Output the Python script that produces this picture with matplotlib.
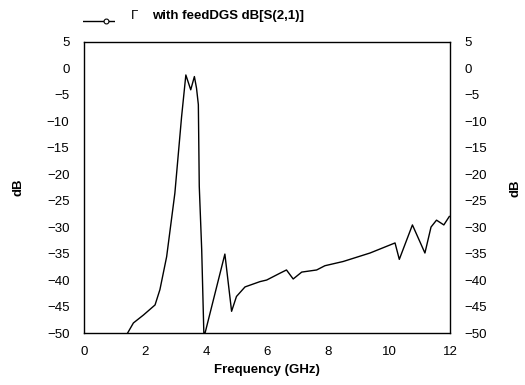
import matplotlib
matplotlib.use("Agg")
import matplotlib.pyplot as plt
from matplotlib.lines import Line2D

plt.rcParams["font.family"] = ["Liberation Sans", "DejaVu Sans"]

# S21 of the DGS filter with feed line
freq_ghz = [1.43, 1.62, 1.95, 2.33, 2.49, 2.71, 2.98, 3.20, 3.34, 3.50,
            3.62, 3.69, 3.75, 3.78, 3.86, 3.93, 3.97, 4.62, 4.84, 5.00,
            5.28, 5.77, 5.99, 6.43, 6.64, 6.86, 7.14, 7.63, 7.90, 8.50,
            9.38, 10.20, 10.34, 10.77, 11.18, 11.38, 11.56, 11.80, 11.98]
s21_db = [-50.0, -48.1, -46.6, -44.7, -41.8, -35.6, -23.6, -9.2, -1.3, -4.1,
          -1.6, -3.8, -6.9, -22.3, -34.3, -50.0, -50.0, -35.1, -45.9, -43.1,
          -41.3, -40.3, -40.0, -38.7, -38.1, -39.8, -38.5, -38.1, -37.3, -36.5,
          -34.9, -33.0, -36.1, -29.6, -34.9, -30.0, -28.7, -29.6, -28.0]

x_ticks = [0, 2, 4, 6, 8, 10, 12]
y_ticks = list(range(-50, 6, 5))

fig = plt.figure(figsize=(5.25, 3.85), dpi=100)
ax = fig.add_axes([0.16, 0.135, 0.697, 0.757])
ax.plot(freq_ghz, s21_db, color="black", lw=1.0)
ax.set_xlim(0, 12)
ax.set_ylim(-50, 5)
ax.set_xticks(x_ticks)
ax.set_yticks(y_ticks)
ax.tick_params(direction="inout", length=3, width=1, color="white",
               labelsize=9.5, right=True, labelright=True)
ax.tick_params(axis="y", pad=9)
ax.tick_params(axis="x", pad=8)
for s in ax.spines.values():
    s.set_linewidth(1.0)

ax.set_xlabel("Frequency (GHz)", fontsize=9.5, fontweight="bold", labelpad=4)
ax.set_ylabel("dB", fontsize=9.5, fontweight="bold", labelpad=16)
fig.text(0.981, 0.51, "dB", rotation=90, fontsize=9.5, fontweight="bold",
         ha="center", va="center")

# legend row above the plot
leg = fig.add_axes([0.158, 0.93, 0.061, 0.03])
leg.axis("off")
leg.set_xlim(0, 1)
leg.set_ylim(0, 1)
leg.add_line(Line2D([0, 1], [0.5, 0.5], color="black", lw=1.0))
leg.plot([0.72], [0.5], marker="o", ms=3.5, mfc="white", mec="black", mew=0.8)
fig.text(0.25, 0.958, "Γ", fontsize=9.5, va="center", ha="left")
fig.text(0.29, 0.958, "with feedDGS dB[S(2,1)]", fontsize=9.5,
         fontweight="bold", va="center", ha="left")

fig.savefig("out.png", dpi=100)
